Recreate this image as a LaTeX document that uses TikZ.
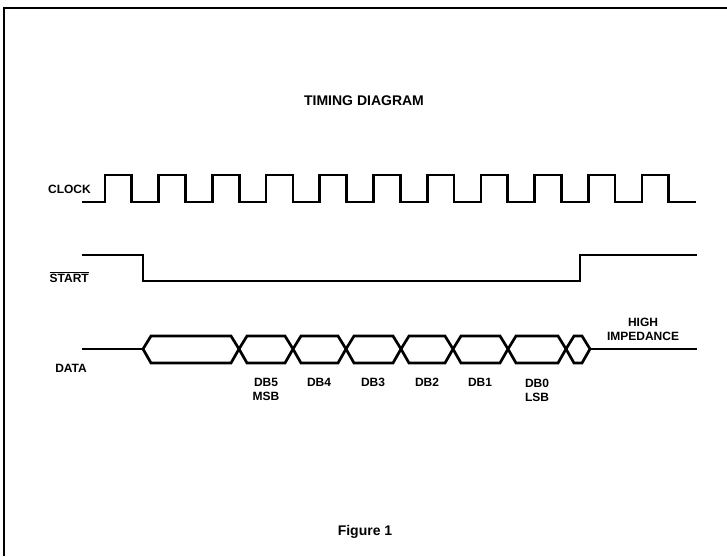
\documentclass[tikz,border=0pt]{standalone}
\usepackage{fontspec}
\setmainfont{Liberation Sans}
\begin{document}
\begin{tikzpicture}[x=1pt,y=-1pt,
  wave/.style={line width=2.7pt,line join=miter},
  lbl/.style={font=\fontsize{12}{14}\selectfont\bfseries,inner sep=0pt},
  ttl/.style={font=\fontsize{14}{16}\selectfont\bfseries,inner sep=0pt}]
\useasboundingbox (0,0) rectangle (727,556);
% frame
\draw[line width=2pt] (4,556) -- (4,8) -- (727,8);
% titles
\node[ttl] (title) at (364,101) {TIMING DIAGRAM};
\node[ttl] (fig) at (365,532) {Figure 1};
% signal labels
\node[lbl,anchor=east] (clk) at (91,189) {CLOCK};
\node[lbl,anchor=east] (start) at (89,277) {$\overline{\hbox{START}}$};
\node[lbl,anchor=east] (data) at (87,368) {DATA};
% clock
\draw[wave] (82,202)
  \foreach \k in {0,...,10}{
    -- ({105+53.7*\k},202) -- ({105+53.7*\k},175)
    -- ({131.8+53.7*\k},175) -- ({131.8+53.7*\k},202)}
  -- (696,202);
% start
\draw[wave] (82,255) -- (143,255) -- (143,281) -- (580,281) -- (580,255) -- (697,255);
% data
\draw[wave] (82,349) -- (143,349);
\draw[wave] (590,349) -- (697,349);
\foreach \a/\b in {143/239,239/293,293/346,346/401,401/453,453/508,508/566,566/590}{
  \draw[wave] (\a,349) -- (\a+8,336) -- (\b-8,336) -- (\b,349) -- (\b-8,363) -- (\a+8,363) -- cycle;
}
% data labels
\node[lbl] (db5) at (266,382) {DB5};
\node[lbl] (msb) at (266,396) {MSB};
\node[lbl] (db4) at (319,382) {DB4};
\node[lbl] (db3) at (373,382) {DB3};
\node[lbl] (db2) at (427,382) {DB2};
\node[lbl] (db1) at (480,382) {DB1};
\node[lbl] (db0) at (537,383) {DB0};
\node[lbl] (lsb) at (537,397) {LSB};
\node[lbl] (high) at (643,322) {HIGH};
\node[lbl] (imp) at (643,336) {IMPEDANCE};
\end{tikzpicture}
\end{document}
